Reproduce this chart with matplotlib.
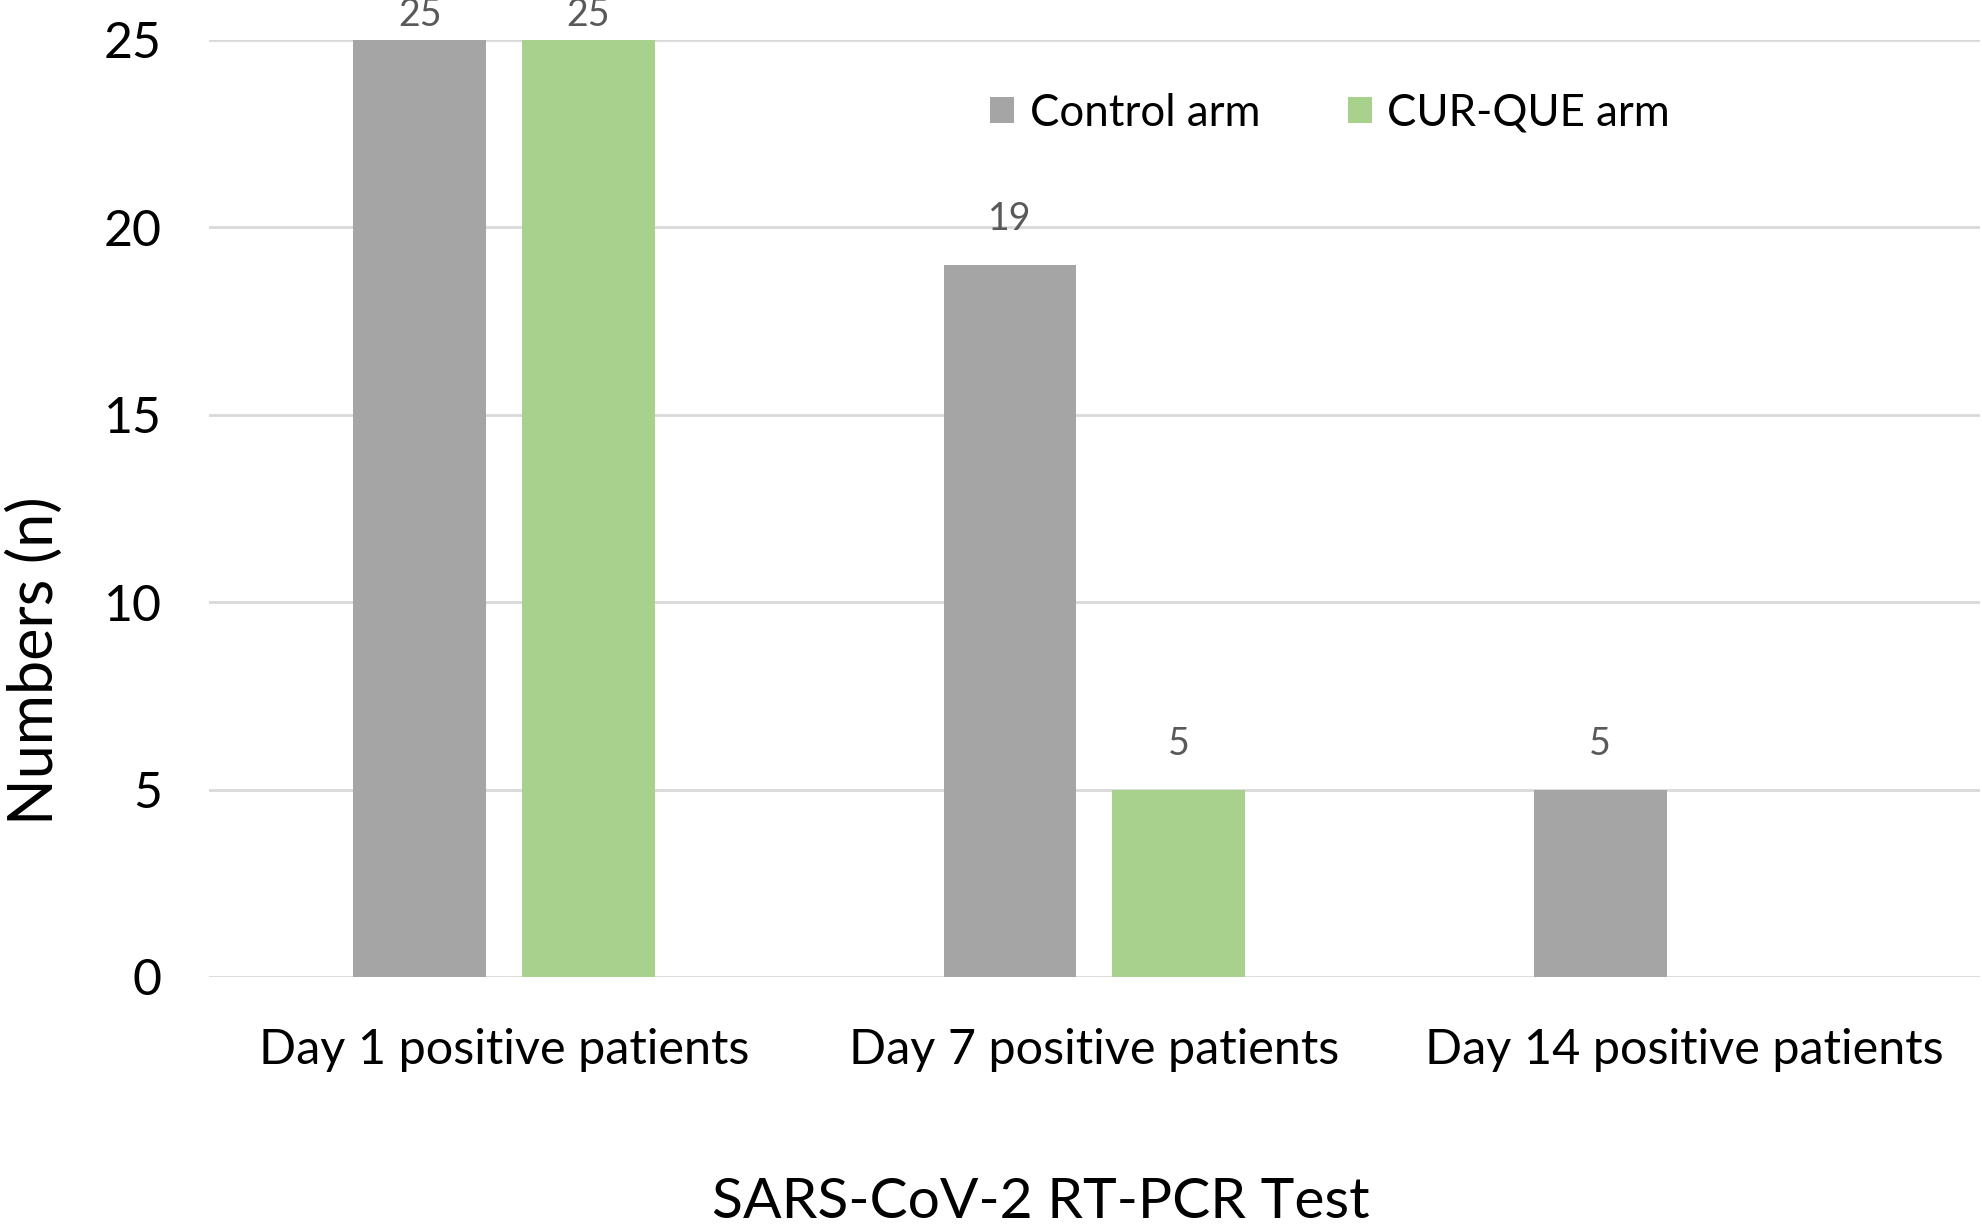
import numpy as np
import matplotlib.pyplot as plt

# Data
categories = ["Day 1 positive patients", "Day 7 positive patients", "Day 14 positive patients"]
control_arm = [25, 19, 5]
curque_arm = [25, 5, 0]
series_names = ["Control arm", "CUR-QUE arm"]
y_ticks = [0, 5, 10, 15, 20, 25]

plt.rcParams["font.family"] = ["Lato", "DejaVu Sans"]

fig = plt.figure(figsize=(19.83, 12.30), dpi=100)
ax = fig.add_axes([0.1054, 0.2057, 0.893, 0.7618])

x = np.arange(len(categories))
width = 0.225
offset = 0.143

bars1 = ax.bar(x - offset, control_arm, width, color="#a5a5a5", label=series_names[0], zorder=3)
bars2 = ax.bar(x + offset, curque_arm, width, color="#a9d18e", label=series_names[1], zorder=3)

# value labels (skip zero-height bars, as in the original)
ymax = y_ticks[-1]
for bars in (bars1, bars2):
    for b in bars:
        h = b.get_height()
        if h > 0:
            # labels on bars that reach the top are squeezed in, like the source
            dy = 5 if h >= ymax else 20
            ax.annotate(f"{h:g}", (b.get_x() + b.get_width() / 2, h),
                        xytext=(0, dy), textcoords="offset points",
                        ha="center", va="bottom", fontsize=27, color="#595959",
                        annotation_clip=False)

ax.set_xlim(-0.5, 2.5)
ax.set_ylim(0, 25)
ax.set_yticks(y_ticks)
ax.set_xticks(x)
ax.set_xticklabels(categories)
ax.tick_params(axis="both", length=0, colors="#000000")
ax.tick_params(axis="x", labelsize=35, pad=37)
ax.tick_params(axis="y", labelsize=36, pad=34)

ax.grid(axis="y", color="#d9d9d9", linewidth=2, zorder=0)
ax.set_axisbelow(True)
for s in ax.spines.values():
    s.set_visible(False)

fig.text(0.018, 0.463, "Numbers (n)", fontsize=44, rotation=90, ha="center", va="center")
fig.text(0.525, 0.022, "SARS-CoV-2 RT-PCR Test", fontsize=41, ha="center", va="center")

ax.legend(loc="center", bbox_to_anchor=(0.633, 0.922), ncol=2, frameon=False,
          fontsize=31.5, handlelength=0.55, handleheight=0.55, columnspacing=2.0,
          handletextpad=0.35)

plt.savefig("out.png", dpi=100)
